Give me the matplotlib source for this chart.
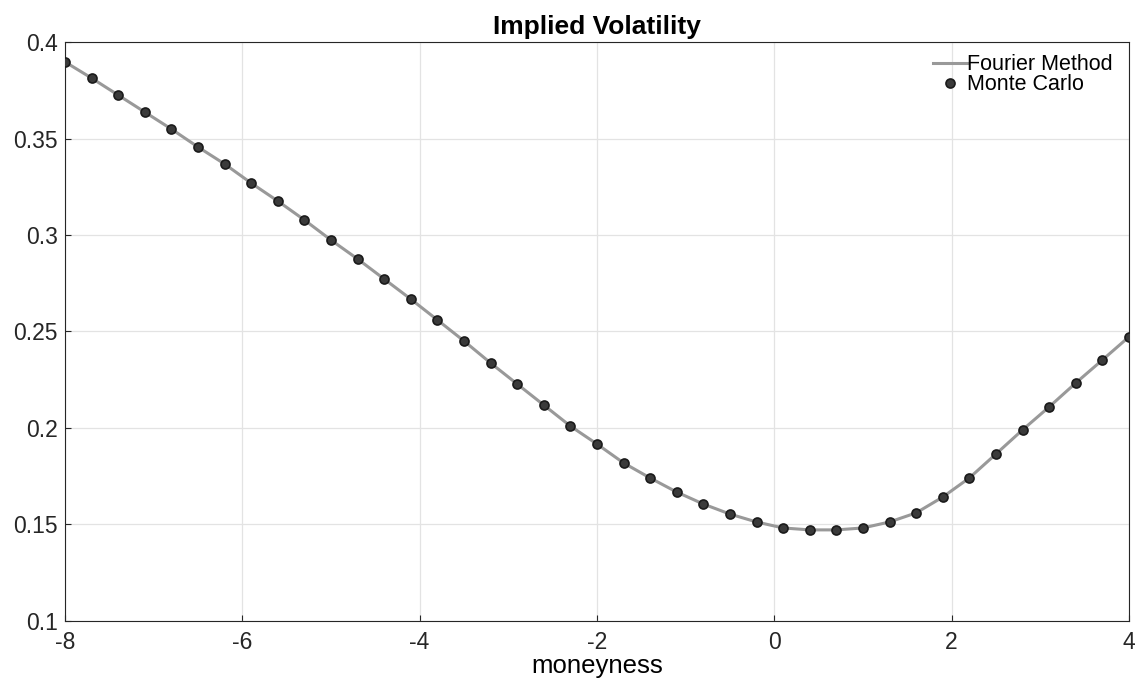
import matplotlib
matplotlib.use('Agg')
from matplotlib import pyplot as plt
import numpy as np

plt.rcParams['font.family'] = ['Liberation Sans', 'DejaVu Sans']
plt.rcParams['axes.unicode_minus'] = False

moneyness = [-8.0, -7.7, -7.4, -7.1, -6.8, -6.5, -6.2, -5.9, -5.6, -5.3,
             -5.0, -4.7, -4.4, -4.1, -3.8, -3.5, -3.2, -2.9, -2.6, -2.3,
             -2.0, -1.7, -1.4, -1.1, -0.8, -0.5, -0.2, 0.1, 0.4, 0.7,
             1.0, 1.3, 1.6, 1.9, 2.2, 2.5, 2.8, 3.1, 3.4, 3.7, 4.0]
iv_fourier = [0.3897, 0.3813, 0.3725, 0.3637, 0.3549, 0.3456, 0.3368, 0.3269, 0.3176, 0.3078,
              0.2974, 0.2876, 0.2772, 0.2668, 0.2560, 0.2451, 0.2337, 0.2228, 0.2119, 0.2010,
              0.1917, 0.1819, 0.1741, 0.1668, 0.1606, 0.1554, 0.1513, 0.1482, 0.1472, 0.1472,
              0.1482, 0.1513, 0.1560, 0.1642, 0.1741, 0.1865, 0.1990, 0.2109, 0.2233, 0.2352, 0.2472]
iv_mc = list(iv_fourier)

fig = plt.figure(figsize=(11.38, 6.83), dpi=100)
ax = fig.add_axes([0.0571, 0.0908, 0.9349, 0.8477])

ax.plot(moneyness, iv_fourier, color='#999999', lw=2.2, label='Fourier Method', zorder=2)
ax.plot(moneyness, iv_mc, ls='none', marker='o', ms=6.5, mfc='#3a3a3a', mec='#1a1a1a',
        mew=1.2, label='Monte Carlo', zorder=3)

ax.set_xlim(-8, 4)
ax.set_ylim(0.1, 0.4)
ax.set_xticks(np.arange(-8, 5, 2))
ax.set_yticks(np.arange(0.1, 0.41, 0.05))
ax.set_yticklabels(['0.1', '0.15', '0.2', '0.25', '0.3', '0.35', '0.4'])
ax.grid(True, color='#e3e3e3', lw=0.9)
ax.set_axisbelow(True)
ax.tick_params(direction='in', length=4, labelsize=16.5, colors='#262626')
ax.tick_params(axis='x', pad=7)
ax.tick_params(axis='y', pad=5)
for s in ax.spines.values():
    s.set_color('#262626')
    s.set_linewidth(0.8)

ax.set_title('Implied Volatility', fontsize=19, fontweight='bold', pad=6)
ax.set_xlabel('moneyness', fontsize=18.5, labelpad=0)

ax.legend(loc='upper right', bbox_to_anchor=(0.993, 0.994), frameon=False, fontsize=15.5,
          handlelength=1.6, handletextpad=0.0, borderaxespad=0.0, labelspacing=-0.03)

plt.savefig('out.png', dpi=100)
